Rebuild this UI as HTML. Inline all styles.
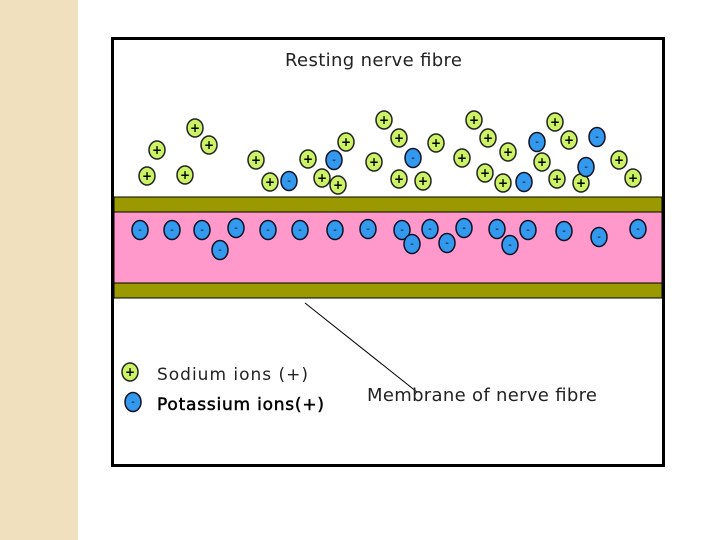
<!DOCTYPE html>
<html><head><style>
html,body{margin:0;padding:0;width:720px;height:540px;overflow:hidden;background:#fff}
</style></head><body>
<svg width="720" height="540" xmlns="http://www.w3.org/2000/svg" font-family="DejaVu Sans, sans-serif">
<rect x="0" y="0" width="78" height="540" fill="#f0e0bd"/>
<rect x="112.5" y="38.5" width="551" height="427" fill="#fff" stroke="#000" stroke-width="3"/>
<text x="285" y="66" font-size="18" fill="#222" textLength="177">Resting nerve fibre</text>
<rect x="114" y="197" width="548" height="15" fill="#9a9a00" stroke="#000" stroke-width="1"/>
<rect x="114" y="212" width="548" height="71" fill="#ff99cc" stroke="#000" stroke-width="1"/>
<rect x="114" y="283" width="548" height="15" fill="#9a9a00" stroke="#000" stroke-width="1"/>
<defs>
<g id="g"><ellipse cx="0" cy="0" rx="8" ry="9" fill="#ccf266" stroke="#222" stroke-width="1.5"/><text x="0" y="4" font-size="12" font-weight="bold" text-anchor="middle" fill="#000">+</text></g>
<g id="b"><ellipse cx="0" cy="0" rx="8" ry="9.5" fill="#3399ee" stroke="#112" stroke-width="1.5"/><text x="0" y="3" font-size="10" text-anchor="middle" fill="#000">-</text></g>
</defs>
<g>
<use href="#g" x="147" y="176"/><use href="#g" x="157" y="150"/><use href="#g" x="185" y="175"/><use href="#g" x="195" y="128"/><use href="#g" x="209" y="145"/><use href="#g" x="256" y="160"/><use href="#g" x="270" y="182"/><use href="#g" x="308" y="159"/><use href="#g" x="322" y="178"/><use href="#g" x="338" y="185"/><use href="#g" x="346" y="142"/><use href="#g" x="374" y="162"/><use href="#g" x="384" y="120"/>
<use href="#g" x="399" y="138"/><use href="#g" x="399" y="179"/><use href="#g" x="423" y="181"/><use href="#g" x="436" y="143"/><use href="#g" x="462" y="158"/><use href="#g" x="474" y="120"/><use href="#g" x="488" y="138"/><use href="#g" x="485" y="173"/><use href="#g" x="508" y="152"/><use href="#g" x="503" y="183"/><use href="#g" x="542" y="162"/><use href="#g" x="557" y="179"/><use href="#g" x="555" y="122"/><use href="#g" x="569" y="140"/><use href="#g" x="581" y="183"/><use href="#g" x="619" y="160"/><use href="#g" x="633" y="178"/>
<use href="#b" x="289" y="181"/><use href="#b" x="334" y="160"/><use href="#b" x="413" y="158"/><use href="#b" x="524" y="182"/><use href="#b" x="537" y="142"/><use href="#b" x="586" y="167"/><use href="#b" x="597" y="137"/>
<use href="#b" x="140" y="230"/><use href="#b" x="172" y="230"/><use href="#b" x="202" y="230"/><use href="#b" x="236" y="228"/><use href="#b" x="268" y="230"/><use href="#b" x="300" y="230"/><use href="#b" x="335" y="230"/><use href="#b" x="368" y="229"/><use href="#b" x="220" y="250"/>
<use href="#b" x="402" y="230"/><use href="#b" x="412" y="244"/><use href="#b" x="430" y="229"/><use href="#b" x="447" y="243"/><use href="#b" x="464" y="228"/><use href="#b" x="497" y="229"/><use href="#b" x="510" y="245"/><use href="#b" x="528" y="230"/><use href="#b" x="564" y="231"/><use href="#b" x="599" y="237"/><use href="#b" x="638" y="229"/>
</g>
<line x1="305" y1="303" x2="417" y2="392" stroke="#000" stroke-width="1"/>
<use href="#g" x="130" y="372"/><use href="#b" x="133" y="402"/>
<text x="157" y="380" font-size="17" fill="#222" textLength="151">Sodium ions  (+)</text>
<text x="157" y="410" font-size="17" fill="#000" stroke="#000" stroke-width="0.5" textLength="167">Potassium ions(+)</text>
<text x="367" y="401" font-size="18" fill="#222" textLength="230">Membrane of nerve fibre</text>
</svg>
</body></html>
